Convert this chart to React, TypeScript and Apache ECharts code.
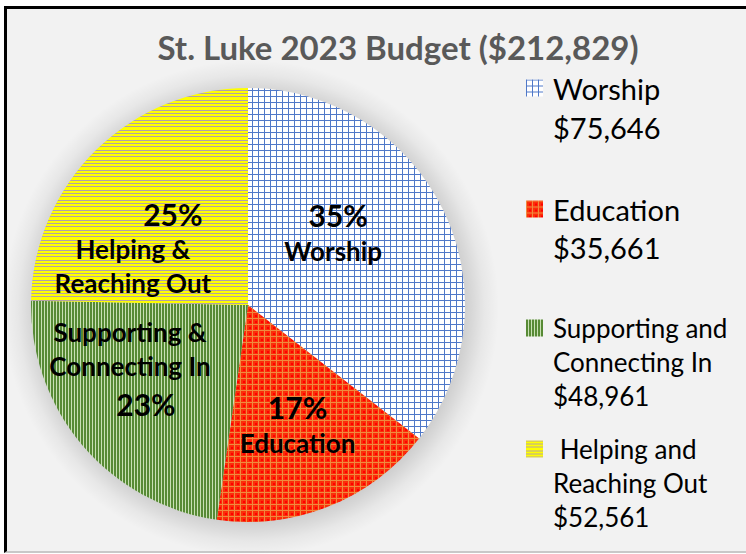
import React, { useEffect, useRef } from "react";
import * as echarts from "echarts";

const titleText = "St. Luke 2023 Budget ($212,829)";
const categories = ["Worship", "Education", "Supporting and Connecting In", "Helping and Reaching Out"];
const amounts = [75646, 35661, 48961, 52561];
const pctLabels = ["35%", "17%", "23%", "25%"];
const sliceLabels = [["Worship"], ["Education"], ["Supporting &", "Connecting In"], ["Helping &", "Reaching Out"]];
const legendLabels = [["Worship"], ["Education"], ["Supporting and", "Connecting In"], ["\u00a0Helping and", "Reaching Out"]];

// style constants
const FONT = "Lato";
const labelOffsets = [[-15, -24], [8, 16], [-33, -7], [-37, 23]];
const legendTop = [88, 209, 328, 449]; // first-line centre
const legendFont = [29, 29, 26, 26];
const legendLine = [39, 38, 34, 34];
const PIE_C = [248, 305];
const PIE_R = 217;
const HALO_C = [251, 308];
const HALO_R = 248;

function tile(w: number, h: number, draw: (c: CanvasRenderingContext2D) => void) {
  const cv = document.createElement("canvas");
  cv.width = w;
  cv.height = h;
  const ctx = cv.getContext("2d")!;
  draw(ctx);
  return { image: cv, repeat: "repeat", imageWidth: w, imageHeight: h } as any;
}

function makePatterns() {
  const worship = tile(6, 6, (c) => {
    c.fillStyle = "#ffffff";
    c.fillRect(0, 0, 6, 6);
    c.fillStyle = "#4f78c8";
    c.fillRect(0, 0, 6, 1);
    c.fillRect(0, 0, 1, 6);
  });
  const education = tile(6, 6, (c) => {
    c.fillStyle = "#fb2e0a";
    c.fillRect(0, 0, 6, 6);
    c.fillStyle = "#f08a3e";
    c.fillRect(0, 0, 6, 1);
    c.fillRect(0, 0, 1, 6);
    c.fillStyle = "#ff0000";
    c.fillRect(3, 3, 2, 2);
  });
  const supporting = tile(3, 1, (c) => {
    c.fillStyle = "#c8e0b4";
    c.fillRect(0, 0, 3, 1);
    c.fillStyle = "#578a35";
    c.fillRect(0, 0, 2, 1);
  });
  const helping = tile(1, 10, (c) => {
    c.fillStyle = "#ffff00";
    c.fillRect(0, 0, 1, 10);
    c.fillStyle = "#b4a2a6";
    c.fillRect(0, 0, 1, 1);
    c.fillRect(0, 3, 1, 1);
    c.fillRect(0, 6, 1, 1);
  });
  return [worship, education, supporting, helping];
}

const fmtMoney = (v: number) => "$" + v.toLocaleString("en-US");

export default function App() {
  const ref = useRef<HTMLDivElement>(null);
  useEffect(() => {
    document.body.style.margin = "0";
    if (!ref.current) return;
    const chart = echarts.init(ref.current, undefined, { renderer: "svg" });
    const patterns = makePatterns();

    const data = categories.map((name, i) => ({
      name,
      value: amounts[i],
      itemStyle: { color: patterns[i] },
    }));

    const labelFormatter = (p: any) => {
      const i = p.dataIndex;
      const names = sliceLabels[i].map((s) => `{n|${s}}`).join("\n");
      if (i === 0) return `{pw|${pctLabels[i]}}\n${names}`;
      if (i === 2) return `${names}\n{ps|${pctLabels[i]}}`;
      if (i === 3) return `{pr|${pctLabels[i]}}\n${names}`;
      return `{p|${pctLabels[i]}}\n${names}`;
    };

    const legends = categories.map((name, i) => {
      const lines = [...legendLabels[i], fmtMoney(amounts[i])];
      const n = lines.length;
      const L = legendLine[i];
      const padded = [...Array(n - 1).fill(""), ...lines];
      return {
        data: [name],
        orient: "vertical",
        left: 526,
        top: legendTop[i] - ((2 * n - 1) * L) / 2,
        padding: 0,
        icon: "rect",
        itemWidth: 17,
        itemHeight: 17,
        selectedMode: false,
        formatter: () => padded.join("\n"),
        textStyle: {
          fontFamily: FONT,
          fontSize: legendFont[i],
          lineHeight: L,
          color: "#000000",
          padding: [0, 0, 0, 5],
        },
      };
    });

    const pct = { fontFamily: FONT, fontWeight: "bold", fontSize: 30, color: "#000" };

    const halo = {
      type: "radial",
      x: HALO_C[0],
      y: HALO_C[1],
      r: HALO_R,
      global: true,
      colorStops: [
        { offset: 0, color: "rgba(0,0,0,0.2)" },
        { offset: 0.84, color: "rgba(0,0,0,0.17)" },
        { offset: 0.89, color: "rgba(0,0,0,0.11)" },
        { offset: 0.94, color: "rgba(0,0,0,0.045)" },
        { offset: 1, color: "rgba(0,0,0,0)" },
      ],
    };

    const option: any = {
      animation: false,
      graphic: [
        {
          type: "circle",
          z: -1,
          silent: true,
          shape: { cx: HALO_C[0], cy: HALO_C[1], r: HALO_R },
          style: { fill: halo },
        },
        {
          type: "text",
          x: 398,
          y: 47,
          silent: true,
          style: {
            text: titleText,
            align: "center",
            verticalAlign: "middle",
            fontFamily: FONT,
            fontWeight: "bold",
            fontSize: 33,
            fill: "#595959",
          },
        },
      ],
      legend: legends,
      series: [
        {
          type: "pie",
          name: "Budget",
          center: PIE_C,
          radius: PIE_R,
          startAngle: 90,
          clockwise: true,
          z: 3,
          avoidLabelOverlap: false,
          data,
          label: {
            show: true,
            position: "inside",
            formatter: labelFormatter,
            rich: {
              p: { ...pct, lineHeight: 38 },
              pw: { ...pct, lineHeight: 38, padding: [0, 0, 0, 10] },
              ps: { ...pct, lineHeight: 42, padding: [0, 0, 0, 32] },
              pr: { ...pct, lineHeight: 36, padding: [0, 0, 0, 80] },
              n: { fontFamily: FONT, fontWeight: "bold", fontSize: 26, lineHeight: 34, color: "#000" },
            },
          },
          labelLine: { show: false },
          labelLayout: (params: any) => ({
            dx: labelOffsets[params.dataIndex][0],
            dy: labelOffsets[params.dataIndex][1],
          }),
          emphasis: { disabled: true },
        },
      ],
    };
    chart.setOption(option);
    return () => chart.dispose();
  }, []);

  return (
    <div style={{ position: "relative", width: 746, height: 554, background: "#ffffff", overflow: "hidden" }}>
      <div
        style={{
          position: "absolute",
          left: 4,
          top: 6,
          width: 742,
          height: 547,
          boxSizing: "border-box",
          background: "#f2f2f2",
          borderLeft: "3px solid #000",
          borderTop: "3px solid #000",
          borderBottom: "2px solid #c8c8c8",
        }}
      />
      <div ref={ref} style={{ position: "absolute", left: 0, top: 0, width: 746, height: 554 }} />
    </div>
  );
}
